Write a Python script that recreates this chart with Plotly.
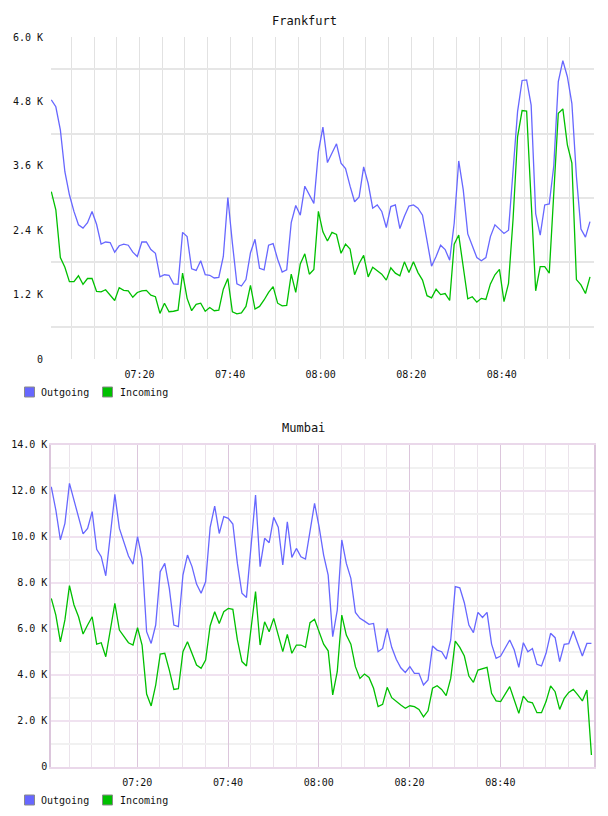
import plotly.graph_objects as go
import pandas as pd

# ---------------- data (values in requests) ----------------
frankfurt_outgoing = [
    4830, 4700, 4270, 3490, 3060, 2750, 2500, 2440, 2540, 2750,
    2510, 2140, 2180, 2170, 1990, 2110, 2140, 2120, 1990, 1910,
    2180, 2180, 2040, 1970, 1530, 1570, 1560, 1400, 1390, 2360,
    2280, 1680, 1650, 1830, 1570, 1560, 1510, 1520, 1910, 3010,
    2160, 1400, 1360, 1480, 1980, 2230, 1690, 1660, 2120, 2150,
    1860, 1620, 1660, 2540, 2860, 2680, 3220, 3060, 2900, 3860,
    4320, 3660, 3820, 4010, 3650, 3550, 3220, 2930, 3020, 3580,
    3270, 2810, 2870, 2750, 2450, 2840, 2870, 2430, 2660, 2850,
    2870, 2810, 2680, 2220, 1730, 1910, 2120, 2040, 1840, 2530,
    3690, 3150, 2330, 2110, 1890, 1830, 1890, 2280, 2500, 2420,
    2340, 2400, 3460, 4610, 5190, 5200, 4730, 2710, 2310, 2870,
    2890, 3600, 5170, 5560, 5260, 4760, 3400, 2420, 2270, 2560,
]
frankfurt_incoming = [
    3120, 2780, 1890, 1710, 1440, 1440, 1550, 1390, 1500, 1500,
    1260, 1250, 1290, 1180, 1090, 1330, 1280, 1270, 1150, 1240,
    1270, 1280, 1190, 1160, 850, 1040, 880, 890, 910, 1600,
    1130, 900, 1020, 1040, 890, 960, 900, 910, 1300, 1500,
    880, 840, 860, 980, 1370, 930, 980, 1100, 1240, 1350,
    1040, 990, 1000, 1580, 1240, 1770, 1960, 1580, 1670, 2750,
    2370, 2200, 2360, 2320, 1970, 2140, 2050, 1570, 1780, 1930,
    1530, 1710, 1650, 1580, 1470, 1700, 1600, 1550, 1810, 1610,
    1810, 1610, 1470, 1180, 1140, 1300, 1200, 1220, 1090, 2140,
    2310, 1710, 1120, 1160, 1060, 1130, 1110, 1400, 1570, 1670,
    1070, 1410, 2600, 4140, 4630, 4620, 2960, 1270, 1720, 1720,
    1600, 3090, 4580, 4660, 3990, 3650, 1480, 1380, 1220, 1530,
]
mumbai_outgoing = [
    12170, 11160, 9860, 10580, 12320, 11590, 10870, 10120, 10360, 11090,
    9450, 9130, 8300, 10220, 11840, 10360, 9780, 9160, 8810, 10000,
    9060, 5870, 5360, 6160, 8480, 8840, 7750, 6160, 6090, 8330,
    9200, 8700, 7940, 7540, 8040, 10410, 11330, 10140, 10870, 10800,
    10550, 8840, 7540, 7360, 9570, 11810, 8700, 9930, 9740, 10840,
    10410, 8770, 10650, 9100, 9490, 9130, 9030, 10290, 11450, 10430,
    9200, 8330, 5650, 6810, 9860, 8840, 8190, 6710, 6450, 6330,
    6190, 6230, 5000, 5140, 6010, 5190, 4670, 4300, 4100, 4350,
    4060, 4060, 3550, 3770, 5250, 5070, 5000, 4680, 5510, 7830,
    7780, 7130, 6160, 5830, 6710, 6490, 6710, 5330, 4710, 4810,
    5140, 5510, 5070, 4320, 5390, 5000, 5140, 4450, 4380, 4930,
    5800, 5610, 4570, 5320, 5350, 5900, 5360, 4810, 5360, 5360,
]
mumbai_incoming = [
    7320, 6590, 5430, 6380, 7870, 7030, 6520, 5770, 6160, 6520,
    5330, 5390, 4780, 5940, 7100, 5940, 5650, 5390, 5290, 6040,
    5290, 3160, 2640, 3550, 4900, 4930, 4200, 3360, 3390, 5000,
    5430, 4930, 4420, 4280, 4640, 6130, 6740, 6230, 6740, 6880,
    6840, 5510, 4570, 4380, 5940, 7610, 5290, 6300, 5870, 6450,
    5720, 5000, 5750, 4930, 5290, 5290, 5190, 6260, 6410, 5870,
    5330, 5040, 3120, 4130, 6590, 5720, 5330, 4350, 3840, 4030,
    3880, 3410, 2610, 2710, 3450, 3000, 2830, 2680, 2540, 2650,
    2610, 2490, 2170, 2430, 3410, 3520, 3360, 3090, 3840, 5460,
    5190, 4810, 3940, 3670, 4200, 4250, 4320, 3190, 2860, 2830,
    3140, 3480, 2900, 2320, 3070, 2830, 2780, 2350, 2350, 2830,
    3510, 3260, 2490, 2970, 3230, 3360, 3120, 2860, 3330, 510,
]

frankfurt_start = "2024-01-01 07:00:30"
mumbai_start = "2024-01-01 07:01:04"
frankfurt_time = pd.date_range(frankfurt_start, periods=len(frankfurt_outgoing), freq="60s")
mumbai_time = pd.date_range(mumbai_start, periods=len(mumbai_outgoing), freq="60s")

x_tick_times = ["2024-01-01 07:20", "2024-01-01 07:40", "2024-01-01 08:00",
                "2024-01-01 08:20", "2024-01-01 08:40"]
x_tick_labels = ["07:20", "07:40", "08:00", "08:20", "08:40"]
grid_times = list(pd.date_range("2024-01-01 07:05", "2024-01-01 08:55", freq="5min"))

frankfurt_ytickvals = [0, 1200, 2400, 3600, 4800, 6000]
frankfurt_yticktext = ["0", "1.2 K", "2.4 K", "3.6 K", "4.8 K", "6.0 K"]
frankfurt_ygrid = [600, 1800, 3000, 4200, 5400]
mumbai_ytickvals = [0, 2000, 4000, 6000, 8000, 10000, 12000, 14000]
mumbai_yticktext = ["0", "2.0 K", "4.0 K", "6.0 K", "8.0 K", "10.0 K", "12.0 K", "14.0 K"]

series_names = ["Outgoing", "Incoming"]
chart_titles = ["Frankfurt", "Mumbai"]

# ---------------- styles ----------------
W, H = 608, 816
BLUE = "#6767ff"
GREEN = "#00c000"
FONT = "DejaVu Sans Mono"


def px(x):
    return x / W


def py(y):
    return 1 - y / H


fig = go.Figure()

fig.add_trace(go.Scatter(x=frankfurt_time, y=frankfurt_outgoing, mode="lines",
                         line=dict(color=BLUE, width=1.3), name=series_names[0],
                         xaxis="x", yaxis="y"))
fig.add_trace(go.Scatter(x=frankfurt_time, y=frankfurt_incoming, mode="lines",
                         line=dict(color=GREEN, width=1.3), name=series_names[1],
                         xaxis="x", yaxis="y"))
fig.add_trace(go.Scatter(x=mumbai_time, y=mumbai_outgoing, mode="lines",
                         line=dict(color=BLUE, width=1.3), name=series_names[0],
                         xaxis="x2", yaxis="y2"))
fig.add_trace(go.Scatter(x=mumbai_time, y=mumbai_incoming, mode="lines",
                         line=dict(color=GREEN, width=1.3), name=series_names[1],
                         xaxis="x2", yaxis="y2"))

common_x = dict(type="date", tickmode="array", tickvals=x_tick_times, ticktext=x_tick_labels,
                ticks="outside", ticklen=6, tickcolor="rgba(0,0,0,0)", automargin=False,
                zeroline=False, tickfont=dict(family=FONT, size=10, color="#111"))

fig.update_layout(
    width=W, height=H, margin=dict(l=0, r=0, t=0, b=0, autoexpand=False),
    paper_bgcolor="white", plot_bgcolor="white", showlegend=False,
    font=dict(family=FONT, size=10, color="#111"),
    xaxis=dict(common_x, domain=[px(51), px(594)], anchor="y",
               range=["2024-01-01 07:00:26", "2024-01-01 09:00:23"],
               showgrid=True, gridcolor="#e2e2e2", gridwidth=1, showline=False,
               minor=dict(tickmode="array", tickvals=grid_times, showgrid=True,
                          gridcolor="#e2e2e2", gridwidth=1)),
    yaxis=dict(domain=[py(359), py(37)], anchor="x", range=[0, 6000], automargin=False,
               tickvals=frankfurt_ytickvals, ticktext=frankfurt_yticktext,
               ticks="outside", ticklen=5, tickcolor="rgba(0,0,0,0)",
               showgrid=False, zeroline=False, showline=False,
               tickfont=dict(family=FONT, size=10, color="#111"),
               minor=dict(tickvals=frankfurt_ygrid, showgrid=True,
                          gridcolor="#e6e6e6", gridwidth=1.5)),
    xaxis2=dict(common_x, domain=[px(51), px(594)], anchor="y2",
                range=["2024-01-01 07:01:00", "2024-01-01 09:00:38"],
                showgrid=True, gridcolor="#dcc6dc", gridwidth=1,
                showline=True, linecolor="#ead8ea", linewidth=1.5, mirror=True,
                minor=dict(tickmode="array", tickvals=grid_times, showgrid=True,
                           gridcolor="#ebe3eb", gridwidth=1)),
    yaxis2=dict(domain=[py(766.7), py(444.7)], anchor="x2", range=[0, 14000], automargin=False,
                tickvals=mumbai_ytickvals, ticktext=mumbai_yticktext,
                ticks="outside", ticklen=0, tickcolor="rgba(0,0,0,0)",
                showgrid=True, gridcolor="#f0e2f0", gridwidth=2, zeroline=False,
                showline=True, linecolor="#dcc6dc", linewidth=1.5, mirror=True,
                tickfont=dict(family=FONT, size=10, color="#111"),
                minor=dict(dtick=1000, tick0=0, showgrid=True, gridcolor="#f1f1f1",
                           gridwidth=2)),
)

# titles
fig.add_annotation(text=chart_titles[0], x=px(304.5), y=py(20.5), xref="paper", yref="paper",
                   showarrow=False, xanchor="center", yanchor="middle",
                   font=dict(family=FONT, size=12, color="#111"))
fig.add_annotation(text=chart_titles[1], x=px(303), y=py(428), xref="paper", yref="paper",
                   showarrow=False, xanchor="center", yanchor="middle",
                   font=dict(family=FONT, size=12, color="#111"))

# legends (squares + text) under each chart
for legend_y in (392, 800):
    for (sq_x, txt_x, color, name) in ((24.5, 39, BLUE, series_names[0]),
                                       (102.5, 118, GREEN, series_names[1])):
        fig.add_shape(type="rect", xref="paper", yref="paper",
                      x0=px(sq_x), x1=px(sq_x + 10), y0=py(legend_y + 5), y1=py(legend_y - 5),
                      fillcolor=color, line=dict(color="#8a8a8a", width=1))
        fig.add_annotation(text=name, x=px(txt_x), y=py(legend_y), xref="paper", yref="paper",
                           showarrow=False, xanchor="left", yanchor="middle",
                           font=dict(family=FONT, size=10, color="#111"))

fig.write_html("out.html")
